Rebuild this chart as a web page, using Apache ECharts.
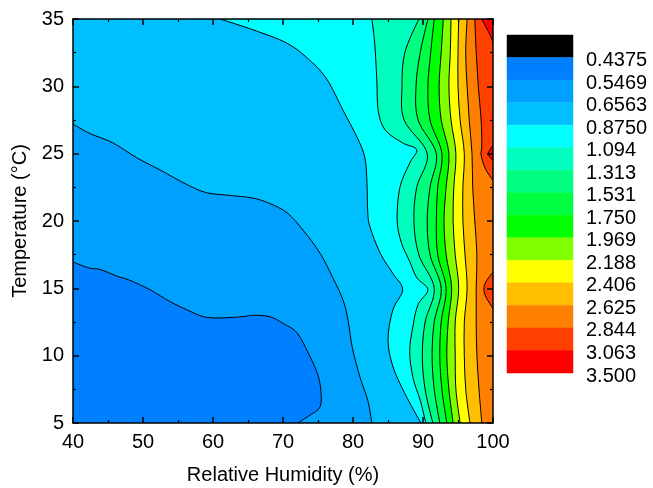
<!DOCTYPE html>
<html>
<head>
<meta charset="utf-8">
<script src="https://cdn.jsdelivr.net/npm/echarts@6/dist/echarts.min.js"></script>
<style>html,body{margin:0;padding:0;background:#fff}#c{width:653px;height:488px}</style>
</head>
<body>
<div id="c"></div>
<script>
// ---- contour levels (legend tick labels) and band colours ----
const levels = ['0.4375','0.5469','0.6563','0.8750','1.094','1.313','1.531','1.750','1.969','2.188','2.406','2.625','2.844','3.063','3.500'];
const bandColors = ['#000000','#0080FF','#00A0FF','#00BFFF','#00FFFF','#00FFBF','#00FF80','#00FF40','#00FF00','#80FF00','#FFFF00','#FFBF00','#FF8000','#FF4000','#FF0000'];

// ---- contour lines: [RH %, T °C] ----
const line0_5469 = [[40,16.95],[42.4,16.5],[43.9,16.4],[46.3,15.9],[48.1,15.6],[51.0,14.9],[53.9,14.0],[56.3,13.4],[58.6,12.9],[61.0,12.8],[64.3,12.9],[65.7,13.0],[68.1,12.9],[70.0,12.4],[72.0,11.7],[73.6,10.2],[74.9,8.7],[75.4,7.45],[75.3,6.2],[73.9,5.6],[72.1,5.0]];
const line0_6563 = [[40,27.2],[42.4,26.5],[45.7,25.8],[49.1,24.7],[52.4,23.8],[56.3,22.7],[59.1,22.1],[62.4,21.9],[65.7,21.7],[68.1,21.3],[70.6,20.6],[72.9,19.3],[75.3,17.6],[77.1,15.8],[78.6,14.1],[79.3,12.6],[79.9,10.6],[81.0,8.4],[82.1,6.7],[82.7,5]];
const line0_8750 = [[61.0,35],[65.7,34.2],[70.6,33.2],[73.9,31.9],[76.3,30.5],[78.6,28.2],[80.6,26.2],[81.7,24.7],[82.0,22.8],[82.1,20.8],[82.4,19.6],[83.9,17.6],[85.7,16.1],[87.1,14.9],[85.7,13.4],[85.0,11.2],[85.7,9.2],[87.4,7.2],[89.7,5]];
const line1_094 = [[82.7,35],[83.1,33.2],[83.4,30.5],[83.6,28.2],[84.6,26.75],[87.1,25.8],[89.1,25.3],[88.1,24.3],[86.7,22.5],[86.3,20.1],[86.9,18.4],[88.1,17.0],[89.1,15.8],[90.7,14.9],[89.3,13.8],[88.6,12.3],[88.1,10.3],[88.6,8.3],[89.6,6.7],[90.4,5]];

// near-vertical contours: RH position at each temperature row
const tRows  = [35, 32.5, 30, 27.5, 25, 22.5, 20, 17.5, 15, 12.5, 10, 7.5, 5];
const rh1_313 = [89.4, 87.4, 87.0, 87.3, 90.6, 89.1, 88.7, 89.4, 91.6, 90.3, 89.9, 90.3, 91.4];
const rh1_531 = [90.7, 89.6, 89.0, 89.3, 91.9, 91.0, 90.6, 91.0, 92.6, 91.6, 91.3, 91.6, 92.4];
const rh1_750 = [91.6, 91.1, 90.7, 91.0, 92.7, 92.1, 91.9, 92.1, 93.3, 92.6, 92.4, 92.7, 93.4];
const rh1_969 = [92.9, 92.6, 92.3, 92.6, 93.7, 93.3, 93.0, 93.3, 94.1, 93.6, 93.4, 93.7, 94.3];
const rh2_188 = [94.0, 93.9, 93.7, 94.0, 94.7, 94.4, 94.3, 94.6, 95.1, 94.6, 94.6, 94.7, 95.3];
const rh2_406 = [95.1, 95.0, 95.0, 95.3, 95.9, 95.7, 95.7, 96.0, 96.3, 95.9, 95.9, 96.1, 96.7];
const rh2_625 = [96.3, 96.1, 96.3, 96.6, 97.0, 97.1, 97.4, 97.7, 97.6, 97.6, 97.7, 98.0, 98.4];

// small pieces that touch the right edge
const line2_844a = [[97.4,35],[97.6,32.5],[97.9,30],[98.3,27.5],[98.4,25.6],[98.3,24.9],[98.9,23.9],[100,23.0]];
const line2_844b = [[100,16.2],[99.0,15.5],[98.7,14.95],[99.0,14.35],[100,13.5]];
const line3_063a = [[98.4,35],[99.0,34.4],[99.6,33.8],[100,33.3]];
const line3_063b = [[100,25.6],[99.3,25.0],[100,24.5]];

const X_MIN = 40, X_MAX = 100, Y_MIN = 5, Y_MAX = 35;
const zipRows = rh => rh.map((v, i) => [v, tRows[i]]);

// level index -> which side is closed by plot corners
const contours = [
  {lvl: 1,  pts: line0_5469, close: 'leftBottom'},
  {lvl: 2,  pts: line0_6563, close: 'leftBottom'},
  {lvl: 3,  pts: line0_8750, close: 'topBottom'},
  {lvl: 4,  pts: line1_094,  close: 'topBottom'},
  {lvl: 5,  pts: zipRows(rh1_313), close: 'topBottom'},
  {lvl: 6,  pts: zipRows(rh1_531), close: 'topBottom'},
  {lvl: 7,  pts: zipRows(rh1_750), close: 'topBottom'},
  {lvl: 8,  pts: zipRows(rh1_969), close: 'topBottom'},
  {lvl: 9,  pts: zipRows(rh2_188), close: 'topBottom'},
  {lvl: 10, pts: zipRows(rh2_406), close: 'topBottom'},
  {lvl: 11, pts: zipRows(rh2_625), close: 'topBottom'},
  {lvl: 12, pts: line2_844a, close: 'topRight'},
  {lvl: 12, pts: line2_844b, close: 'none'},
  {lvl: 13, pts: line3_063a, close: 'topRight'},
  {lvl: 13, pts: line3_063b, close: 'none'}
];
const closeCorners = {
  leftBottom: [[X_MAX,Y_MIN],[X_MAX,Y_MAX],[X_MIN,Y_MAX]],
  topBottom: [[X_MAX,Y_MIN],[X_MAX,Y_MAX]],
  topRight: [[X_MAX,Y_MAX]],
  none: []
};

function curvePath(P) {
  let d = 'M' + P[0][0] + ' ' + P[0][1];
  const n = P.length;
  for (let i = 0; i < n - 1; i++) {
    const p0 = P[i > 0 ? i - 1 : i], p1 = P[i], p2 = P[i + 1], p3 = P[i + 2 < n ? i + 2 : i + 1];
    const c1x = p1[0] + (p2[0] - p0[0]) / 6, c1y = p1[1] + (p2[1] - p0[1]) / 6;
    const c2x = p2[0] - (p3[0] - p1[0]) / 6, c2y = p2[1] - (p3[1] - p1[1]) / 6;
    d += 'C' + c1x + ' ' + c1y + ' ' + c2x + ' ' + c2y + ' ' + p2[0] + ' ' + p2[1];
  }
  return d;
}

const font = 'Liberation Sans';
const chart = echarts.init(document.getElementById('c'), null, {renderer: 'canvas'});

function mainAxisX(pos, showLabel) {
  return {
    type: 'value', gridIndex: 0, position: pos, min: X_MIN, max: X_MAX, interval: 10, z: 10,
    axisLine: {show: true, onZero: false, lineStyle: {color: '#000', width: 1.5}},
    axisTick: {show: true, inside: true, length: 6, lineStyle: {color: '#000', width: 1.5}},
    minorTick: {show: true, splitNumber: 2, length: 3, lineStyle: {color: '#000', width: 1.2}},
    splitLine: {show: false}, minorSplitLine: {show: false},
    axisLabel: {show: showLabel, fontSize: 20, color: '#000', fontFamily: font, margin: 9},
    name: showLabel ? 'Relative Humidity (%)' : '', nameLocation: 'middle', nameGap: 42,
    nameTextStyle: {fontSize: 20, color: '#000', fontFamily: font}
  };
}
function mainAxisY(pos, showLabel) {
  return {
    type: 'value', gridIndex: 0, position: pos, min: Y_MIN, max: Y_MAX, interval: 5, z: 10,
    axisLine: {show: true, onZero: false, lineStyle: {color: '#000', width: 1.5}},
    axisTick: {show: true, inside: true, length: 6, lineStyle: {color: '#000', width: 1.5}},
    minorTick: {show: true, splitNumber: 2, length: 3, lineStyle: {color: '#000', width: 1.2}},
    splitLine: {show: false}, minorSplitLine: {show: false},
    axisLabel: {show: showLabel, fontSize: 20, color: '#000', fontFamily: font, margin: 9},
    name: showLabel ? 'Temperature (°C)' : '', nameLocation: 'middle', nameGap: 40,
    nameTextStyle: {fontSize: 20, color: '#000', fontFamily: font}
  };
}

const option = {
  animation: false,
  backgroundColor: '#fff',
  grid: [
    {left: 73, top: 19, width: 420, height: 404, show: true, borderWidth: 0,
     backgroundColor: bandColors[1], outerBoundsMode: 'none', containLabel: false},
    {left: 507, top: 35, width: 66, height: 338, outerBoundsMode: 'none', containLabel: false}
  ],
  xAxis: [
    mainAxisX('bottom', true),
    mainAxisX('top', false),
    {type: 'value', gridIndex: 1, min: 0, max: 1, show: false}
  ],
  yAxis: [
    mainAxisY('left', true),
    mainAxisY('right', false),
    {type: 'value', gridIndex: 1, min: 0, max: 15, interval: 1, inverse: true, show: false}
  ],
  series: [
    {
      type: 'custom', name: 'fills', xAxisIndex: 0, yAxisIndex: 0, silent: true, clip: true,
      data: contours.map((c, i) => [X_MIN, Y_MIN, i]),
      encode: {x: 0, y: 1},
      renderItem: function (params, api) {
        const c = contours[api.value(2)];
        const P = c.pts.map(p => api.coord(p));
        const corners = closeCorners[c.close].map(p => api.coord(p));
        let d = curvePath(P);
        corners.forEach(q => { d += 'L' + q[0] + ' ' + q[1]; });
        d += 'Z';
        return {type: 'path', shape: {pathData: d}, style: {fill: bandColors[c.lvl + 1], stroke: null}};
      }
    },
    {
      type: 'custom', name: 'lines', xAxisIndex: 0, yAxisIndex: 0, silent: true, clip: true, z: 3,
      data: contours.map((c, i) => [X_MIN, Y_MIN, i]),
      encode: {x: 0, y: 1},
      renderItem: function (params, api) {
        const c = contours[api.value(2)];
        const P = c.pts.map(p => api.coord(p));
        return {type: 'path', shape: {pathData: curvePath(P)}, style: {fill: null, stroke: '#000', lineWidth: 1}};
      }
    },
    {
      type: 'custom', name: 'legend', xAxisIndex: 2, yAxisIndex: 2, silent: true, clip: false,
      data: bandColors.map((col, i) => [0, i]),
      encode: {x: 0, y: 1},
      renderItem: function (params, api) {
        const i = api.value(1);
        const a = api.coord([0, i]), b = api.coord([1, i + 1]);
        return {type: 'group', children: [
          {type: 'rect', shape: {x: a[0], y: a[1], width: b[0] - a[0], height: b[1] - a[1]},
           style: {fill: bandColors[i], stroke: bandColors[i], lineWidth: 0.5}},
          {type: 'text', x: b[0] + 13, y: b[1] + 3,
           style: {text: levels[i], fill: '#000', font: '20px "Liberation Sans"', align: 'left', verticalAlign: 'middle'}}
        ]};
      }
    }
  ]
};
chart.setOption(option);
</script>
</body>
</html>
